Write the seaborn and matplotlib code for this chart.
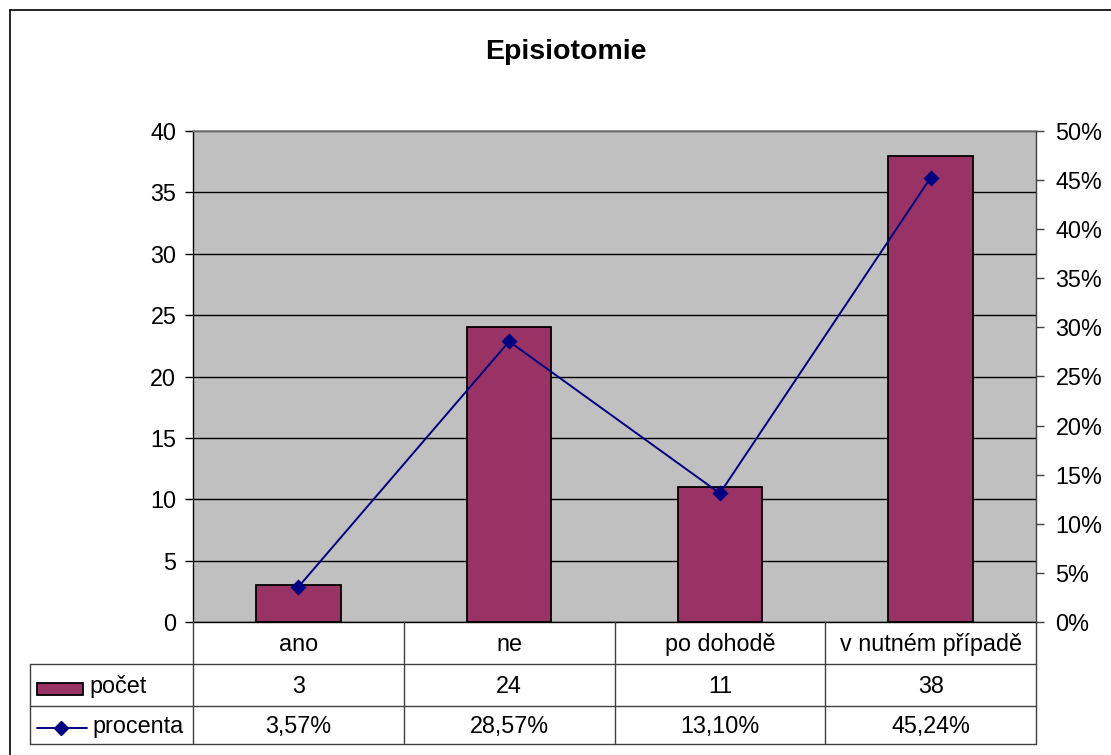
import matplotlib
matplotlib.use("Agg")
import matplotlib.pyplot as plt
import seaborn as sns
import pandas as pd
from matplotlib.lines import Line2D
from matplotlib.patches import Rectangle
from matplotlib.ticker import FuncFormatter, MultipleLocator

categories = ["ano", "ne", "po dohodě", "v nutném případě"]
pocet = [3, 24, 11, 38]
procenta = [3.57, 28.57, 13.10, 45.24]
pocet_labels = ["3", "24", "11", "38"]
procenta_labels = ["3,57%", "28,57%", "13,10%", "45,24%"]
title = "Episiotomie"
series_names = ["počet", "procenta"]

sns.set_theme(style="white")
plt.rcParams["font.family"] = ["Liberation Sans", "DejaVu Sans"]
plt.rcParams["text.color"] = "black"
plt.rcParams["ytick.color"] = "black"
plt.rcParams["ytick.labelcolor"] = "black"

FS = 16.8

W, H = 1111, 755
fig = plt.figure(figsize=(W / 100, H / 100), dpi=100)
fig.patch.set_facecolor("white")

L, R, T, B = 193, 1036, 131, 622
ax = fig.add_axes([L / W, 1 - B / H, (R - L) / W, (B - T) / H])
ax.set_facecolor("#C0C0C0")

df = pd.DataFrame({"cat": categories, "pocet": pocet, "pct": [p / 100 for p in procenta]})

sns.barplot(data=df, x="cat", y="pocet", ax=ax, color="#993366", width=0.4,
            edgecolor="black", linewidth=1.3, saturation=1, zorder=3)
ax.set_xlim(-0.5, 3.5)
ax.set_ylim(0, 40)
ax.yaxis.set_major_locator(MultipleLocator(5))
ax.grid(axis="y", color="black", linewidth=1, zorder=1)
ax.set_axisbelow(True)
ax.set_xlabel("")
ax.set_ylabel("")
ax.set_xticks([])
for s in ["top", "right"]:
    ax.spines[s].set_visible(False)
ax.spines["left"].set_color("black")
ax.spines["left"].set_linewidth(1.0)
ax.spines["bottom"].set_color("black")
ax.spines["bottom"].set_linewidth(1.0)
ax.tick_params(axis="y", direction="out", length=6, width=1, color="black",
               labelsize=FS, labelcolor="black", pad=6, left=True)

ax2 = ax.twinx()
sns.pointplot(data=df, x="cat", y="pct", ax=ax2, color="#000080", markers="D",
              markersize=7, linewidth=1.4, errorbar=None)
ax2.set_xlim(-0.5, 3.5)
ax2.set_ylim(0, 0.5)
ax2.yaxis.set_major_locator(MultipleLocator(0.05))
ax2.yaxis.set_major_formatter(FuncFormatter(lambda v, p: f"{round(v * 100)}%"))
ax2.set_xlabel("")
ax2.set_ylabel("")
ax2.set_xticks([])
ax2.patch.set_visible(False)
for s in ["top", "left", "bottom"]:
    ax2.spines[s].set_visible(False)
ax2.spines["right"].set_visible(True)
ax2.spines["right"].set_color("#404040")
ax2.spines["right"].set_linewidth(1.0)
ax2.tick_params(axis="y", direction="out", length=6, width=1, color="#404040",
                labelsize=FS, labelcolor="black", pad=8, right=True, left=False,
                labelleft=False, labelright=True)

# top border of the plot area (gray)
ax.plot([0, 1], [1, 1], transform=ax.transAxes, color="#808080", lw=1.2, zorder=4, clip_on=False)

fig.text(566 / W, 1 - 52 / H, title, ha="center", va="center", fontsize=20.5,
         fontweight="bold", color="black")

# data table
ph = B - T
def yax(py):
    return -(py - B) / ph
def xax(px):
    return (px - L) / (R - L)

y_rows = [B, 664, 706, 744]
tr = ax.get_xaxis_transform()
lc = "#404040"
line_kw = dict(color=lc, lw=1.0, clip_on=False, zorder=5)
for yy in y_rows[1:]:
    ax.plot([xax(30), 1], [yax(yy)] * 2, transform=ax.transAxes, **line_kw)
ax.plot([xax(30), xax(30)], [yax(664), yax(744)], transform=ax.transAxes, **line_kw)
ax.plot([1, 1], [0, yax(744)], transform=ax.transAxes, **line_kw)
ax.plot([0, 0], [0, yax(744)], transform=ax.transAxes, **line_kw)
for i in range(1, len(categories)):
    ax.plot([i - 0.5, i - 0.5], [0, yax(744)], transform=tr, **line_kw)

cap_half = 0.716 * FS * 100 / 72 / 2
row_c = [(y_rows[k] + y_rows[k + 1]) / 2 + cap_half for k in range(3)]
for i, c in enumerate(categories):
    ax.text(i, yax(row_c[0]), c, transform=tr, ha="center", va="baseline", fontsize=FS)
    ax.text(i, yax(row_c[1]), pocet_labels[i], transform=tr, ha="center", va="baseline", fontsize=FS)
    ax.text(i, yax(row_c[2]), procenta_labels[i], transform=tr, ha="center", va="baseline", fontsize=FS)

# legend keys in left column
ax.add_patch(Rectangle((xax(37), yax(695)), xax(83) - xax(37), yax(683) - yax(695),
                       transform=ax.transAxes, facecolor="#993366", edgecolor="black",
                       lw=1.3, clip_on=False, zorder=6))
ax.text(xax(89), yax(row_c[1]), series_names[0], transform=ax.transAxes,
        ha="left", va="baseline", fontsize=FS)
ax.add_line(Line2D([xax(37), xax(87)], [yax(728)] * 2, transform=ax.transAxes,
                   color="#000080", lw=1.4, clip_on=False, zorder=6))
ax.add_line(Line2D([xax(61)], [yax(728)], transform=ax.transAxes, marker="D",
                   markersize=7, color="#000080", clip_on=False, zorder=7))
ax.text(xax(92), yax(row_c[2]), series_names[1], transform=ax.transAxes,
        ha="left", va="baseline", fontsize=FS)

# outer chart border (left and top visible)
fig.add_artist(Line2D([10 / W, 10 / W], [0, 1 - 10 / H], color="black", lw=1.2))
fig.add_artist(Line2D([10 / W, 1], [1 - 10 / H, 1 - 10 / H], color="black", lw=1.2))

fig.savefig("out.png", dpi=100, facecolor="white")
